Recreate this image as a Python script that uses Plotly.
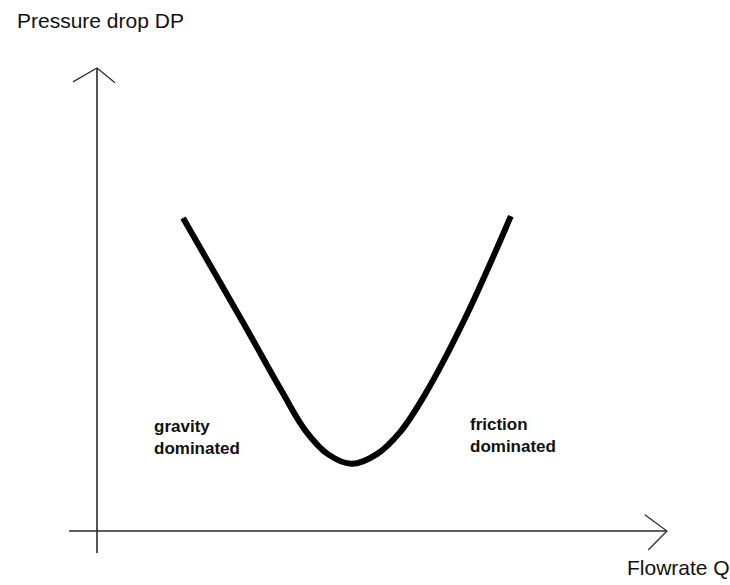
import plotly.graph_objects as go

# Schematic pressure-drop curve (arbitrary units; axis arrows end at 10)
flow_q = [1.51, 2.56, 3.25, 3.65, 4.05, 4.47, 4.91, 5.32, 5.75, 6.46, 7.26]
pressure_drop = [6.76, 4.51, 3.00, 2.18, 1.66, 1.45, 1.66, 2.14, 2.94, 4.60, 6.80]

y_title = "Pressure drop DP"
x_title = "Flowrate Q"
region_labels = ["gravity<br>dominated", "friction<br>dominated"]
region_q = [0.965, 6.51]
region_dp = [2.01, 2.07]

AXIS_COLOR = "#2a2a2a"
AXIS_W = 1.6

fig = go.Figure()

# Axes drawn as plain lines through the origin
fig.add_trace(go.Scatter(x=[0, 0], y=[-0.475, 10], mode="lines",
                         line=dict(color=AXIS_COLOR, width=AXIS_W), hoverinfo="skip"))
fig.add_trace(go.Scatter(x=[-0.49, 10], y=[0, 0], mode="lines",
                         line=dict(color=AXIS_COLOR, width=AXIS_W), hoverinfo="skip"))
# Open arrow heads
fig.add_trace(go.Scatter(x=[-0.42, 0, 0.316], y=[9.70, 10, 9.68], mode="lines",
                         line=dict(color=AXIS_COLOR, width=1.2), hoverinfo="skip"))
fig.add_trace(go.Scatter(x=[9.61, 10, 9.67], y=[0.35, 0, -0.41], mode="lines",
                         line=dict(color=AXIS_COLOR, width=1.2), hoverinfo="skip"))

# Pressure drop vs flowrate curve
fig.add_trace(go.Scatter(x=flow_q, y=pressure_drop, mode="lines",
                         line=dict(color="black", width=6, shape="spline", smoothing=1.0),
                         hoverinfo="skip"))

annotations = [
    dict(text=y_title, x=-1.44, y=11.02, xanchor="left", yanchor="middle",
         font=dict(family="Liberation Sans, Arial", size=21, color="#111")),
    dict(text=x_title, x=9.26, y=-0.78, xanchor="left", yanchor="middle",
         font=dict(family="Liberation Sans, Arial", size=21, color="#111")),
]
for txt, q, dp in zip(region_labels, region_q, region_dp):
    annotations.append(dict(text=txt, x=q, y=dp, xanchor="left", yanchor="middle",
                            align="left",
                            font=dict(family="Liberation Sans, Arial", size=17,
                                      color="#111", weight="bold")))
for a in annotations:
    a.update(xref="x", yref="y", showarrow=False)

fig.update_layout(
    width=730, height=585,
    margin=dict(l=0, r=0, t=0, b=0),
    paper_bgcolor="white", plot_bgcolor="white",
    showlegend=False,
    xaxis=dict(visible=False, range=[-97 / 57, 633 / 57], fixedrange=True),
    yaxis=dict(visible=False, range=[-54 / 46.3, 531 / 46.3], fixedrange=True),
    annotations=annotations,
)

fig.write_html("out.html")
